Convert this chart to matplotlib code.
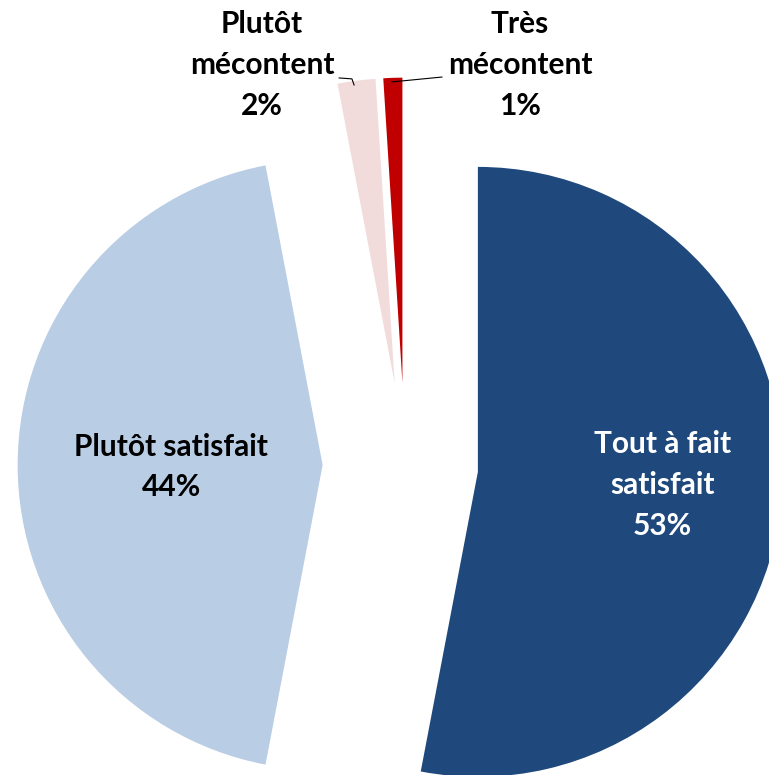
#!/usr/bin/env python3
# -*- coding: utf-8 -*-

import matplotlib
matplotlib.use('Agg')
import matplotlib.pyplot as plt

# Satisfaction survey shares (clockwise from 12 o'clock)
labels = ['Tout à fait\nsatisfait', 'Plutôt satisfait',
          'Plutôt\nmécontent', 'Très\nmécontent']
values = [53, 44, 2, 1]
colors = ['#1F497D', '#B9CDE5', '#F2DCDB', '#C00000']
explode = [0.24, 0.27, 0.27, 0.27]

plt.rcParams['font.family'] = ['Lato', 'DejaVu Sans']

fig = plt.figure(figsize=(7.69, 7.75), dpi=100)
ax = fig.add_axes([0, 0, 1, 1])

ax.pie(values, explode=explode, colors=colors, startangle=90,
       counterclock=False, radius=1.0,
       wedgeprops={'linewidth': 0})

# label positions (data units, pie radius = 1)
label_pos = [(0.843, -0.066), (-0.767, -0.007),
             (-0.469, 1.311), (0.377, 1.311)]
text_colors = ['white', 'black', 'black', 'black']

for lab, val, (x, y), c in zip(labels, values, label_pos, text_colors):
    ax.text(x, y, f'{lab}\n{val}%', ha='center', va='center',
            fontsize=21.5, fontweight='bold', color=c, linespacing=1.55)

# leader lines for the small slices
ax.plot([-0.216, -0.174, -0.167], [1.269, 1.266, 1.246],
        color='black', lw=0.8)
ax.plot([-0.043, 0.121], [1.256, 1.272], color='black', lw=0.8)

# centre of pie at pixel (405, 465), radius 305 px
scale = 305.0
ax.set_xlim(-405 / scale, (769 - 405) / scale)
ax.set_ylim(-(775 - 465) / scale, 465 / scale)
ax.set_aspect('auto')
ax.axis('off')

fig.savefig('out.png', dpi=100)
